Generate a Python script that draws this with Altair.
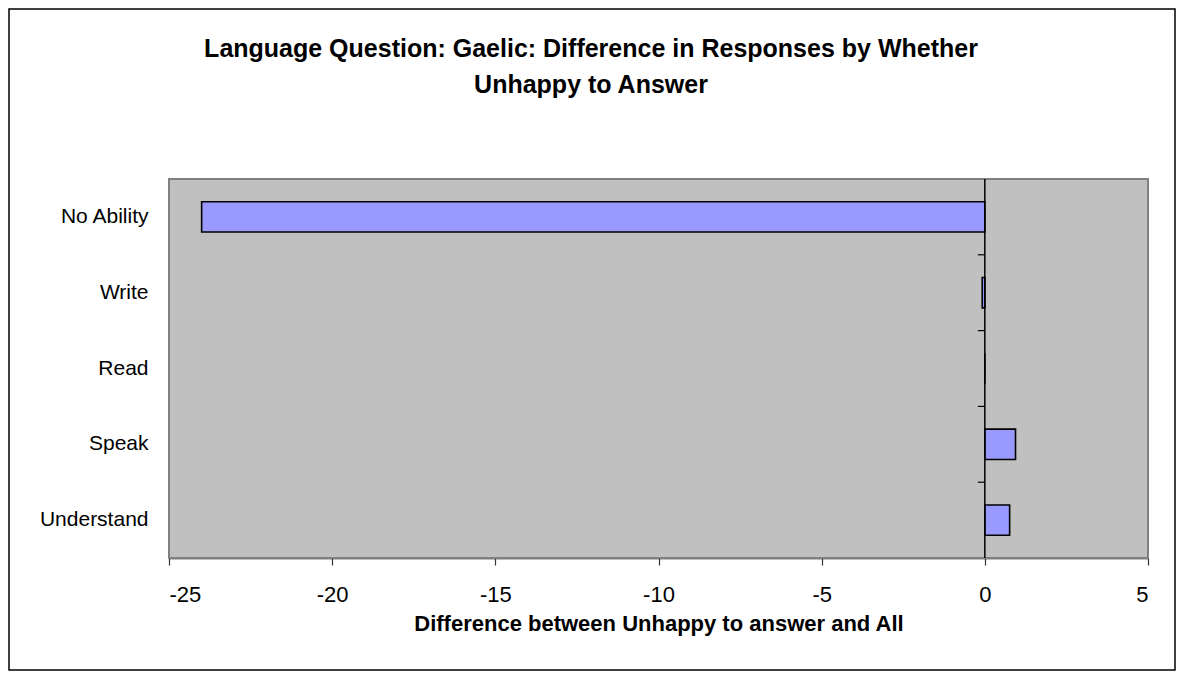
import altair as alt
import pandas as pd

categories = ["No Ability", "Write", "Read", "Speak", "Understand"]
values = [-24.0, -0.08, 0.0, 0.94, 0.76]

x_ticks = [-25, -20, -15, -10, -5, 0, 5]
boundaries = [0.5, 1.5, 2.5, 3.5]
title_lines = ["Language Question: Gaelic: Difference in Responses by Whether", "Unhappy to Answer"]
x_title = "Difference between Unhappy to answer and All"

df = pd.DataFrame({"category": categories, "value": values})

W, H = 979, 379
PAD_L, PAD_T, PAD_R, PAD_B = 161, 171, 28, 113
FONT = "Liberation Sans"

x_scale = alt.Scale(domain=[-25, 5], nice=False, zero=False)

background = alt.Chart(pd.DataFrame({"f": [0]})).mark_rect(
    fill="#C0C0C0", stroke="#808080", strokeWidth=2
).encode(x=alt.value(0), x2=alt.value(W), y=alt.value(0), y2=alt.value(H))

bars = alt.Chart(df).mark_bar(color="#9999FF", stroke="black", strokeWidth=1.6).encode(
    x=alt.X("value:Q", scale=x_scale,
            axis=alt.Axis(values=x_ticks, title=x_title, labelExpr="datum.value",
                          titleFontSize=22, titleFont=FONT, titleFontWeight="bold",
                          titleColor="black", titlePadding=8,
                          labelFontSize=22, labelFont=FONT, labelColor="black",
                          labelPadding=19, tickSize=7, tickColor="#333333", tickWidth=1.2,
                          domainColor="black", domainWidth=1.5, grid=False)),
    x2=alt.datum(0),
    y=alt.Y("category:N", sort=categories, title=None,
            scale=alt.Scale(paddingInner=0.6, paddingOuter=0.3),
            axis=alt.Axis(labelFontSize=21, labelFont=FONT, labelColor="black",
                          ticks=False, domain=False, labelPadding=21, grid=False)),
)

zero_line = alt.Chart(pd.DataFrame({"z": [0]})).mark_rule(color="black", strokeWidth=1.5).encode(
    x=alt.X("z:Q", scale=x_scale)
)

zero_ticks = alt.Chart(pd.DataFrame({"b": boundaries})).mark_rule(color="black", strokeWidth=1.2).encode(
    x=alt.value(W * 25 / 30 - 7),
    x2=alt.value(W * 25 / 30),
    y=alt.Y("b:Q", scale=alt.Scale(domain=[-0.5, 4.5], nice=False), axis=None),
)

frame = alt.Chart(pd.DataFrame({"f": [0]})).mark_rect(
    fill=None, stroke="black", strokeWidth=1.5, clip=False
).encode(
    x=alt.value(-PAD_L + 1),
    x2=alt.value(W + PAD_R - 1),
    y=alt.value(-PAD_T + 1),
    y2=alt.value(H + PAD_B - 1),
)

TITLE_X = 422
title1 = alt.Chart(pd.DataFrame({"t": [title_lines[0]]})).mark_text(
    font=FONT, fontSize=25, fontWeight="bold", color="black", align="center", baseline="alphabetic"
).encode(text="t:N", x=alt.value(TITLE_X), y=alt.value(-122))
title2 = alt.Chart(pd.DataFrame({"t": [title_lines[1]]})).mark_text(
    font=FONT, fontSize=25, fontWeight="bold", color="black", align="center", baseline="alphabetic"
).encode(text="t:N", x=alt.value(TITLE_X), y=alt.value(-86))

chart = alt.layer(background, bars, zero_line, zero_ticks, frame, title1, title2).resolve_scale(
    y="independent"
).properties(
    width=W, height=H,
    autosize=alt.AutoSizeParams(type="none"),
    padding={"left": PAD_L, "top": PAD_T, "right": PAD_R, "bottom": PAD_B},
).configure_view(stroke=None).configure(background="white")

chart.save("out.html", embed_options={"renderer": "svg", "actions": False})
